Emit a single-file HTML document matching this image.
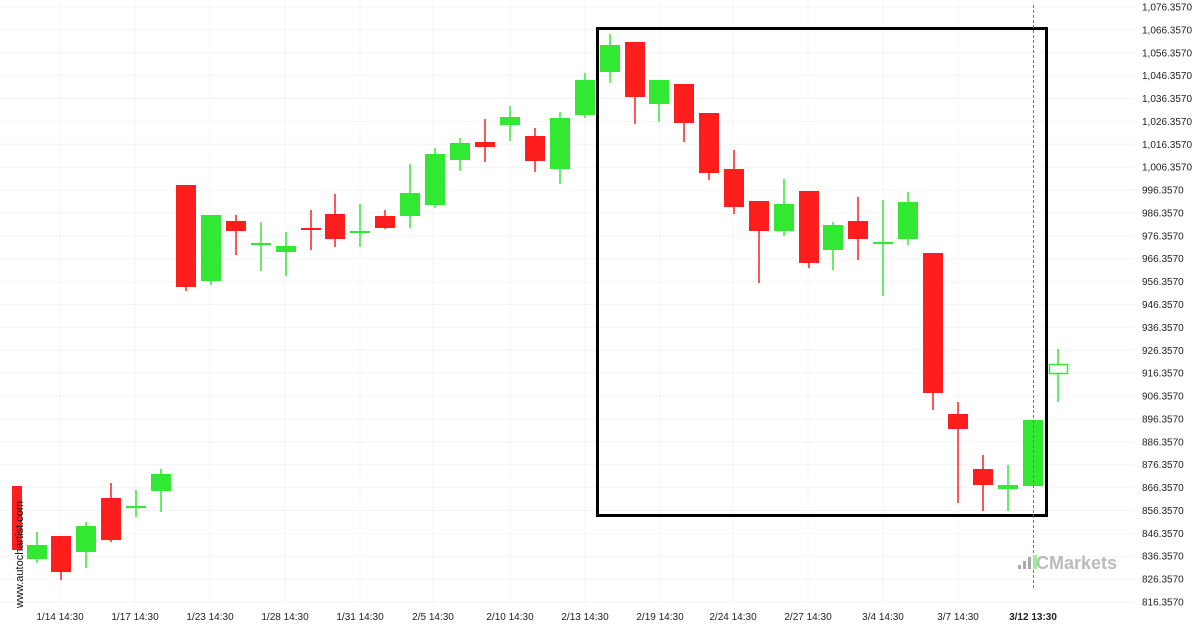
<!DOCTYPE html>
<html><head><meta charset="utf-8"><style>
html,body{margin:0;padding:0;background:#fff;width:1200px;height:630px;overflow:hidden}
svg text{font-family:"Liberation Sans",sans-serif;font-size:10px;fill:#222}
</style></head><body>
<svg id="c" width="1200" height="630" xmlns="http://www.w3.org/2000/svg"></svg>
<script>
const s=document.getElementById('c');let h='';
for(let i=0;i<=26;i++){const v=1076.357-i*10;const y=7+i*595/26;
h+=`<line x1="0" x2="1135" y1="${y}" y2="${y}" stroke="#f4f4f4"/>`;
h+=`<text x="1142" y="${y+3.5}">${v>=1000?'1,'+(v-1000).toFixed(4).padStart(8,'0'):v.toFixed(4)}</text>`;}
const xl=[[60,'1/14 14:30'],[135,'1/17 14:30'],[210,'1/23 14:30'],[285,'1/28 14:30'],[360,'1/31 14:30'],[433,'2/5 14:30'],[510,'2/10 14:30'],[585,'2/13 14:30'],[660,'2/19 14:30'],[733,'2/24 14:30'],[808,'2/27 14:30'],[883,'3/4 14:30'],[958,'3/7 14:30']];
for(const [x,t] of xl){h+=`<line x1="${x}" x2="${x}" y1="0" y2="603" stroke="#f4f4f4"/><text x="${x}" y="620" text-anchor="middle">${t}</text>`;}
h+=`<text x="1033" y="620" text-anchor="middle" font-weight="bold">3/12 13:30</text>`;
const G='#33e833',R='#ff1e1e';
const c=[[16,486,550,486,550,R],[37,545,559,532,563,G],[61,536,572,536,580,R],[86,526,552,522,568,G],[111,498,540,483,542,R],[136,506,508,490,517,G],[161,474,491,469,512,G],
[186,185,287,185,291,R],[211,215,281,215,285,G],[236,221,231,215,255,R],[261,243,245,222,271,G],[286,246,252,232,276,G],[311,228,230,210,250,R],[335,214,239,194,247,R],[360,231,233,204,247,G],[385,216,228,210,229,R],[410,193,216,164,228,G],[435,154,205,148,208,G],[460,143,160,138,171,G],[485,142,147,119,162,R],[510,117,125,106,141,G],[535,136,161,128,172,R],[560,118,169,112,184,G],[585,80,115,73,118,G],[610,45,72,34,83,G],[635,42,97,42,124,R],[659,80,104,80,122,G],[684,84,123,84,142,R],[709,113,173,113,180,R],[734,169,207,150,214,R],[759,201,231,201,283,R],[784,204,231,179,236,G],[809,191,263,191,268,R],[833,225,250,222,270,G],[858,221,239,197,260,R],[883,242,244,200,296,G],[908,202,239,192,245,G],[933,253,393,253,410,R],[958,414,429,402,503,R],[983,469,485,455,511,R],[1008,485,489,465,511,G],[1033,420,486,420,486,G]];
for(const [x,t,b,wt,wb,col] of c){const w=(x==16)?10:20;const xx=(x==16)?12:x-10;
h+=`<line x1="${x}" x2="${x}" y1="${wt}" y2="${wb}" stroke="${col}" stroke-width="1.5"/><rect x="${xx}" y="${t}" width="${w}" height="${b-t}" fill="${col}"/>`;}
h+=`<line x1="1058" x2="1058" y1="349" y2="402" stroke="${G}" stroke-width="1.5"/><rect x="1049.5" y="364.5" width="18" height="9" fill="#fff" stroke="${G}" stroke-width="1.5"/>`;
h+=`<rect x="597.5" y="28.5" width="449" height="487" fill="none" stroke="#000" stroke-width="3"/>`;
h+=`<line x1="1033.5" x2="1033.5" y1="5" y2="588" stroke="#777" stroke-dasharray="3,2"/>`;
h+=`<text transform="translate(23,608) rotate(-90)" style="font-size:11px;fill:#111">www.autochartist.com</text>`;
h+=`<g fill="#aaa"><rect x="1018" y="565" width="3" height="4"/><rect x="1023" y="561" width="3" height="8"/><rect x="1028" y="557" width="3" height="12"/></g><rect x="1033" y="555" width="4" height="14" fill="#9e9"/>`;
h+=`<text x="1036" y="569" style="font-size:18px;font-weight:bold;fill:#bbb">CMarkets</text>`;
s.innerHTML=h;
</script>
</body></html>
